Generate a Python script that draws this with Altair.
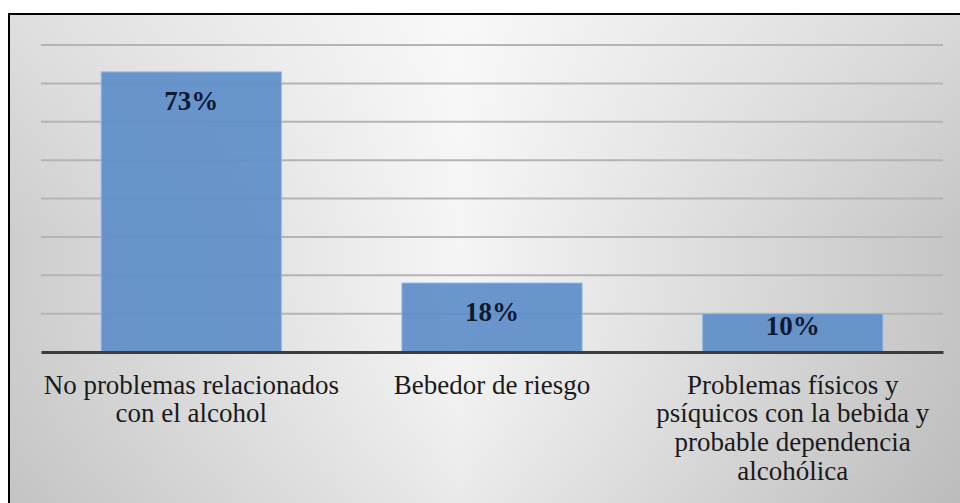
import altair as alt
import pandas as pd

# Survey result: share of respondents in each alcohol-use category
categories = [
    "No problemas relacionados\ncon el alcohol",
    "Bebedor de riesgo",
    "Problemas físicos y\npsíquicos con la bebida y\nprobable dependencia\nalcohólica",
]
shares = [0.73, 0.18, 0.10]
labels = ["73%", "18%", "10%"]
grid_values = [0.1, 0.2, 0.3, 0.4, 0.5, 0.6, 0.7, 0.8]

W, H = 902, 307
SERIF = "Liberation Serif"

bars_df = pd.DataFrame({"cat": categories, "share": shares, "label": labels})
grid_df = pd.DataFrame({"g": grid_values})
one = pd.DataFrame({"k": [0]})

y_scale = alt.Scale(domain=[0, 0.8], nice=False, zero=True)
x_scale = alt.Scale(domain=categories, paddingInner=0.4, paddingOuter=0.2)

x_axis = alt.Axis(
    title=None,
    labelAngle=0,
    labelFont=SERIF,
    labelFontSize=27,
    labelLineHeight=28.7,
    labelColor="#1a1a1a",
    labelBaseline="top",
    labelPadding=20,
    labelLimit=500,
    labelExpr="split(datum.label, '\\n')",
    ticks=False,
    domainColor="#3c3c3c",
    domainWidth=3,
    grid=False,
    zindex=1,
)

# Framed panel with soft grey shading (horizontal sweep + vertical light)
frame_h = alt.Chart(one).mark_rect(
    color=alt.LinearGradient(
        gradient="linear", x1=0, y1=0, x2=1, y2=0,
        stops=[
            alt.GradientStop(color="#cdcdcd", offset=0),
            alt.GradientStop(color="#f5f5f5", offset=0.47),
            alt.GradientStop(color="#c4c4c4", offset=1),
        ],
    ),
).encode(x=alt.value(-32), x2=alt.value(W + 24), y=alt.value(-31), y2=alt.value(H + 160))

frame_v = alt.Chart(one).mark_rect(
    color=alt.LinearGradient(
        gradient="linear", x1=0, y1=0, x2=0, y2=1,
        stops=[
            alt.GradientStop(color="rgba(255,255,255,0.35)", offset=0),
            alt.GradientStop(color="rgba(255,255,255,0)", offset=0.45),
            alt.GradientStop(color="rgba(0,0,0,0.05)", offset=1),
        ],
    ),
    stroke="#000000",
    strokeWidth=2,
).encode(x=alt.value(-32), x2=alt.value(W + 24), y=alt.value(-31), y2=alt.value(H + 160))

grid = alt.Chart(grid_df).mark_rule(color="#b4b4b4", strokeWidth=2).encode(
    y=alt.Y("g:Q", scale=y_scale, axis=None),
    x=alt.value(0),
    x2=alt.value(W),
)

bars = alt.Chart(bars_df).mark_bar(
    color="#5f8fca",
    opacity=0.93,
    stroke="#9dbde6",
    strokeWidth=1.2,
    strokeOpacity=0.7,
).encode(
    x=alt.X("cat:N", sort=categories, scale=x_scale, axis=x_axis),
    y=alt.Y("share:Q", scale=y_scale, axis=None),
)

text = alt.Chart(bars_df).transform_calculate(
    pos="datum.share >= 0.15 ? datum.share - 0.078 : datum.share - 0.034"
).mark_text(
    font=SERIF, fontSize=27, fontWeight="bold", color="#0e1a30", baseline="middle"
).encode(
    x=alt.X("cat:N", sort=categories, scale=x_scale, axis=x_axis),
    y=alt.Y("pos:Q", scale=y_scale, axis=None),
    text="label:N",
)

chart = (
    alt.layer(frame_h, frame_v, grid, bars, text)
    .properties(
        width=W,
        height=H,
        padding={"left": 41, "top": 45, "right": 17, "bottom": 151},
        autosize="none",
        background="#ffffff",
    )
    .configure(font=SERIF)
    .configure_axis(labelFont=SERIF)
    .configure_view(stroke=None)
)

chart.save("out.html", embed_options={"renderer": "svg", "actions": False})
